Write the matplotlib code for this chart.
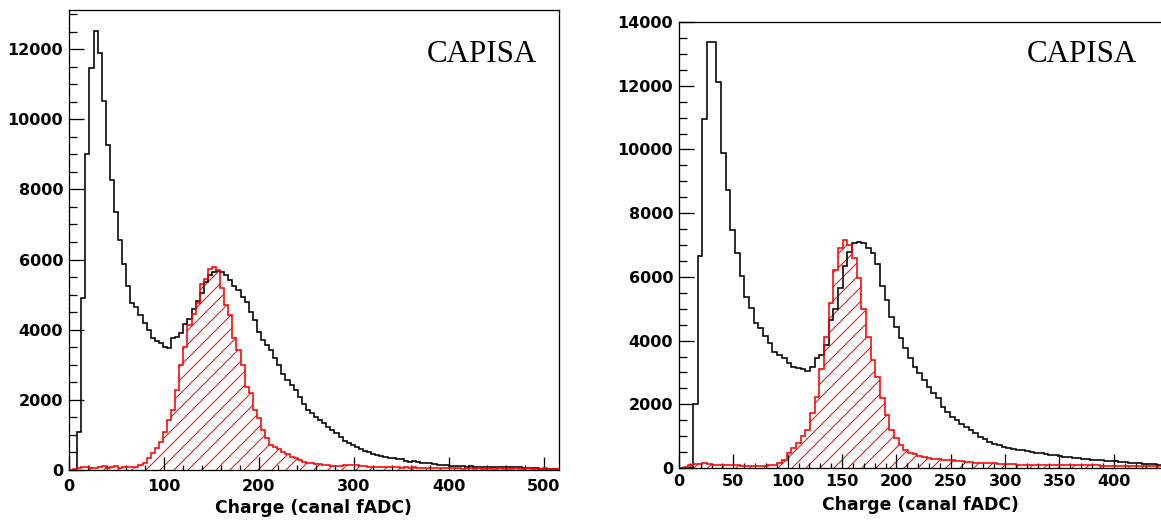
import numpy as np
import matplotlib
matplotlib.use("Agg")
import matplotlib.pyplot as plt
from matplotlib.ticker import MultipleLocator

# ---------------- data (counts per bin, bin width 4.3 fADC channels) ----------------
BIN_WIDTH = 4.3

left_black = [0, 0, 1090, 4900, 9000, 11450, 12510, 11900, 10530, 9260,
              8270, 7350, 6560, 5860, 5250, 4770, 4650, 4420, 4200, 3990,
              3750, 3690, 3610, 3520, 3470, 3750, 3800, 3900, 4150, 4300,
              4600, 4830, 5050, 5350, 5550, 5650, 5680, 5650, 5560, 5420,
              5250, 5130, 4940, 4800, 4510, 4280, 3940, 3710, 3560, 3420,
              3200, 3000, 2750, 2560, 2420, 2280, 2090, 1880, 1720, 1620,
              1520, 1430, 1330, 1240, 1140, 1050, 950, 830, 760, 700,
              660, 590, 550, 520, 470, 430, 400, 380, 340, 350,
              320, 300, 270, 240, 250, 215, 205, 190, 190, 165,
              150, 145, 140, 125, 120, 115, 110, 95, 100, 95,
              95, 90, 95, 85, 95, 80, 85, 80, 75, 80,
              75, 70, 60, 50, 45, 40, 40, 35, 30, 30]

left_red = [0, 40, 60, 95, 80, 70, 60, 75, 110, 70,
            90, 100, 70, 85, 90, 80, 95, 140, 190, 330,
            475, 620, 810, 1090, 1430, 1710, 2280, 2990, 3520, 4130,
            4450, 4750, 5300, 5450, 5720, 5800, 5700, 5200, 4700, 4420,
            3750, 3420, 2990, 2380, 2190, 1710, 1470, 1140, 900, 710,
            650, 600, 520, 450, 380, 330, 290, 240, 200, 190,
            170, 160, 150, 140, 120, 115, 110, 130, 140, 140,
            130, 100, 100, 95, 90, 95, 75, 95, 80, 75,
            95, 70, 75, 60, 75, 55, 60, 50, 55, 50,
            50, 45, 55, 50, 45, 50, 40, 45, 50, 40,
            45, 40, 50, 40, 35, 45, 40, 35, 40, 45,
            35, 40, 45, 40, 35, 40, 45, 40, 35, 40]

right_black = [0, 0, 0, 2000, 6650, 10950, 13360, 13360, 12130, 9880,
               8730, 7470, 6740, 6030, 5380, 5010, 4540, 4380, 4140, 3930,
               3650, 3550, 3440, 3290, 3180, 3130, 3100, 3060, 3180, 3450,
               3550, 3860, 4650, 5000, 5640, 6350, 6780, 7050, 7080, 7070,
               6900, 6740, 6400, 5700, 5270, 4750, 4440, 4070, 3760, 3450,
               3180, 2970, 2760, 2550, 2340, 2190, 1930, 1770, 1610, 1500,
               1380, 1300, 1190, 1090, 985, 900, 830, 760, 710, 660,
               630, 600, 570, 550, 530, 510, 480, 460, 440, 420,
               400, 375, 355, 340, 320, 305, 290, 275, 260, 250,
               240, 225, 215, 205, 195, 185, 170, 160, 150, 140,
               125, 115, 105, 95, 90]

right_red = [0, 20, 90, 140, 140, 145, 140, 95, 100, 95,
             95, 90, 95, 65, 70, 65, 60, 65, 70, 90,
             100, 150, 250, 460, 620, 780, 990, 1200, 1720, 2240,
             3100, 4120, 5170, 6200, 6900, 7150, 7000, 6600, 5950, 5000,
             4100, 3400, 2870, 2200, 1660, 1200, 930, 720, 565, 460,
             440, 370, 330, 300, 290, 280, 260, 255, 250, 220,
             210, 200, 180, 170, 165, 165, 160, 155, 130, 125,
             125, 120, 95, 100, 95, 90, 95, 100, 95, 90,
             95, 90, 95, 100, 90, 95, 90, 95, 90, 95,
             65, 60, 70, 65, 60, 65, 70, 60, 65, 60,
             65, 60, 65, 60, 65]

left_xticks = [0, 100, 200, 300, 400, 500]
right_xticks = [0, 50, 100, 150, 200, 250, 300, 350, 400]
left_yticks = [0, 2000, 4000, 6000, 8000, 10000, 12000]
right_yticks = [0, 2000, 4000, 6000, 8000, 10000, 12000, 14000]
xlabel_text = "Charge (canal fADC)"
tag_text = "CAPISA"

# ---------------- figure ----------------
DPI = 84
W, H = 1161, 520


def pt(px):
    return px * 72.0 / DPI


plt.rcParams["font.family"] = ["DejaVu Sans"]
plt.rcParams["font.weight"] = "bold"
plt.rcParams["hatch.linewidth"] = pt(1.0)
plt.rcParams["hatch.color"] = "red"

fig = plt.figure(figsize=(W / DPI, H / DPI), dpi=DPI)
fig.patch.set_facecolor("white")


def axes_px(l, t, r, b):
    return fig.add_axes([l / W, 1 - b / H, (r - l) / W, (b - t) / H])


R_SCALE = 1.087  # px per channel, right panel
axL = axes_px(69, 9.5, 559, 470)
axR = axes_px(679, 22, 679 + 450 * R_SCALE, 468)


def draw(ax, black, red):
    eb = np.arange(len(black) + 1) * BIN_WIDTH
    er = np.arange(len(red) + 1) * BIN_WIDTH
    ax.stairs(red, er, fill=True, facecolor="none", edgecolor="red",
              hatch="//", linewidth=0, zorder=1)
    ax.stairs(black, eb, color="black", linewidth=pt(1.6), zorder=2)
    ax.stairs(red, er, color="red", linewidth=pt(1.6), zorder=3)


draw(axL, left_black, left_red)
draw(axR, right_black, right_red)

axL.set_xlim(0, 516)
axL.set_ylim(0, 13130)
axR.set_xlim(0, 450)
axR.set_ylim(0, 14000)

axL.set_xticks(left_xticks, [str(v) for v in left_xticks])
axR.set_xticks(right_xticks, [str(v) for v in right_xticks])
axL.set_yticks(left_yticks, [str(v) for v in left_yticks])
axR.set_yticks(right_yticks, [str(v) for v in right_yticks])
axL.xaxis.set_minor_locator(MultipleLocator(20))
axR.xaxis.set_minor_locator(MultipleLocator(10))
for ax in (axL, axR):
    ax.yaxis.set_minor_locator(MultipleLocator(500))
    ax.tick_params(which="both", direction="in", top=False, right=False,
                   width=pt(1.3), color="black", labelsize=pt(16))
    ax.tick_params(axis="y", which="major", length=pt(15), pad=pt(6))
    ax.tick_params(axis="y", which="minor", length=pt(7.5))
    ax.tick_params(axis="x", which="minor", length=pt(5.5))
    for s in ax.spines.values():
        s.set_linewidth(pt(1.3))
        s.set_color("black")

axL.tick_params(axis="x", which="major", length=pt(13), pad=pt(9))
axR.tick_params(axis="x", which="major", length=pt(14), pad=pt(5.5))

# axis labels
for ax, xf, yf in ((axL, (313 - 69) / 490, (470 - 513) / 460.5),
                   (axR, (920 - 679) / (450 * R_SCALE), (468 - 510) / 446)):
    ax.set_xlabel(xlabel_text, fontsize=pt(17.2), fontweight="bold")
    ax.xaxis.set_label_coords(xf, yf)
    ax.xaxis.label.set_verticalalignment("baseline")

# CAPISA tags
axL.text((482 - 69) / 490, (470 - 62) / 460.5, tag_text, transform=axL.transAxes,
         ha="center", va="baseline", fontsize=pt(31), fontweight="normal",
         family=["Liberation Serif", "DejaVu Serif"])
axR.text((1082 - 679) / (450 * R_SCALE), (468 - 62) / 446, tag_text,
         transform=axR.transAxes, ha="center", va="baseline", fontsize=pt(31),
         fontweight="normal", family=["Liberation Serif", "DejaVu Serif"])

fig.savefig("out.png", dpi=DPI, facecolor="white")
